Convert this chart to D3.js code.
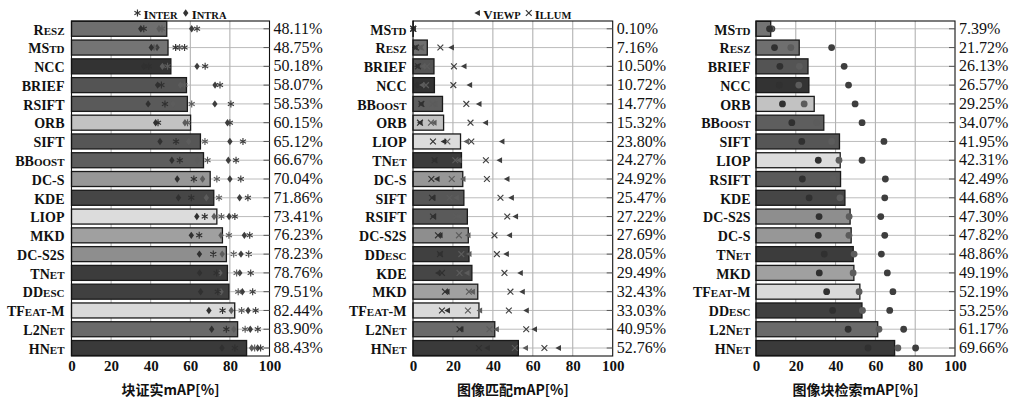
<!DOCTYPE html>
<html><head><meta charset="utf-8">
<script src="https://cdn.jsdelivr.net/npm/d3@7"></script>
<style>
html,body{margin:0;padding:0;background:#fff;}
svg{display:block;}
</style></head>
<body><svg id="c" width="1010" height="399"></svg>
<script>
// ---------------- DATA ----------------
// lowercase letters = small caps
const verifNames = ["Resz","MStd","NCC","BRIEF","RSIFT","ORB","SIFT","BBoost","DC-S","KDE","LIOP","MKD","DC-S2S","TNet","DDesc","TFeat-M","L2Net","HNet"];
const verifMean  = [48.11,48.75,50.18,58.07,58.53,60.15,65.12,66.67,70.04,71.86,73.41,76.23,78.23,78.76,79.51,82.44,83.90,88.43];
// [easy, hard, tough]
const verifInter = [[63.4,45.7,36.5],[57.1,54.6,52.6],[67.5,48.5,39],[75,57,45.4],[80.5,60.7,47.2],[80,58.6,43.7],[86.6,67.4,52.8],[83.1,68.7,54.7],[85.5,73.4,61.8],[89.1,74.5,60.5],[82.5,75.7,67.3],[90,79.5,64.5],[89.5,81.9,71.6],[90.5,83.4,73.3],[91.5,84.2,73.9],[93,85.9,76.3],[94.1,87.7,78.2],[95.5,92.5,82.5]];
const verifIntra = [[60.7,44.2,35],[43.2,41.7,40.3],[63.4,45.9,36.5],[72.5,55,43.5],[72.4,51.3,38.7],[78.8,57.3,42.5],[80,59.2,44.7],[79.2,63.6,50.7],[80,66.2,53.4],[84.9,68.1,54],[79.6,72,63.3],[87.3,75.5,60.5],[85.6,76.1,64.6],[85,75,64.7],[86.3,75.5,65.2],[89.2,80.7,69.4],[90.3,82,70.8],[94,91,76]];

const matchNames = ["MStd","Resz","BRIEF","NCC","BBoost","ORB","LIOP","TNet","DC-S","SIFT","RSIFT","DC-S2S","DDesc","KDE","MKD","TFeat-M","L2Net","HNet"];
const matchMean  = [0.10,7.16,10.50,10.72,14.77,15.32,23.80,24.27,24.92,25.47,27.22,27.69,28.05,29.49,32.43,33.03,40.95,52.76];
const matchViewp = [[0.1,0.1,0.1],[19.2,3.5,1.0],[25.5,5,2],[28.3,4.5,1.5],[33,11,4],[36.3,10.5,3.5],[44.5,26.7,15.3],[43.3,23,10.8],[47,25,12],[49.2,21.7,10],[51.3,23,10.3],[48.3,27.5,13.5],[46.7,28,13.5],[53.7,27,12.5],[54.7,29.7,17],[56.7,33.3,17.2],[60.8,41.7,24],[72.8,56.3,37.2]];
const matchIllum = [[0.1,0.1,0.1],[13.7,4.0,1.5],[20.5,7,2.5],[20.2,6.5,3.3],[26.7,9.8,4.2],[28.8,9,3.5],[29.2,17.2,10],[36.5,21.2,10.8],[37,19.4,9.2],[43.8,18.3,9.5],[47.2,21.5,10],[40.8,23,12.5],[42,24.2,13.5],[45.8,23.3,14.5],[48.8,28,16],[48,27.5,14.5],[56.7,38.3,23.3],[65.8,51,33]];

const retrNames = ["MStd","Resz","BRIEF","NCC","ORB","BBoost","SIFT","LIOP","RSIFT","KDE","DC-S2S","DC-S","TNet","MKD","TFeat-M","DDesc","L2Net","HNet"];
const retrMean  = [7.39,21.72,26.13,26.57,29.25,34.07,41.95,42.31,42.49,44.68,47.30,47.82,48.86,49.19,52.19,53.25,61.17,69.66];
const retrVals  = [[8.0,7.4,6.8],[38,17.5,9.3],[44.3,21.8,12],[46.5,21.5,11.7],[49.8,24.2,13.3],[53.3,30.5,18],[64.3,38,23],[53.3,41.7,31.3],[65,38.7,23.3],[64.7,42.2,26.7],[62.7,46.8,31.7],[64.7,46.7,31.3],[63,49.3,34.3],[66,48.8,31.8],[68.8,51.8,35.5],[67.2,53.5,38.5],[74.2,61.8,46.3],[80.2,71.3,56.3]];

const xTicks = [0,20,40,60,80,100];
const titles = ["块证实mAP[%]","图像匹配mAP[%]","图像块检索mAP[%]"];

// ---------------- STYLE ----------------
const barColor = {
  "Resz":"#6f6f6f","MStd":"#747474","NCC":"#333333","BRIEF":"#545454","RSIFT":"#5a5a5a",
  "ORB":"#c2c2c2","SIFT":"#565656","BBoost":"#5e5e5e","DC-S":"#979797","KDE":"#464646",
  "LIOP":"#dcdcdc","MKD":"#a0a0a0","DC-S2S":"#8e8e8e","TNet":"#3c3c3c","DDesc":"#404040",
  "TFeat-M":"#d9d9d9","L2Net":"#6a6a6a","HNet":"#3a3a3a"
};
const diffColor = ["#3e3e3e","#5c5c5c","#303030"];
const serif = "'Liberation Serif','Times New Roman',serif";

const svg = d3.select("#c");

function smallCaps(sel, name, big, small){
  const runs = [];
  for (const ch of name){
    const low = ch !== ch.toUpperCase();
    if (runs.length && runs[runs.length-1].low === low) runs[runs.length-1].t += ch;
    else runs.push({low, t: ch});
  }
  runs.forEach(r => {
    sel.append("tspan").attr("font-size", r.low ? small : big).text(r.t.toUpperCase());
  });
}

const shapes = {
  asterisk: "M0,-3.5L0,3.5M-3.03,-1.75L3.03,1.75M-3.03,1.75L3.03,-1.75",
  diamond: "M0,-3.7L2.7,0L0,3.7L-2.7,0Z",
  tri: "M-3,0L2.6,-3L2.6,3Z",
  cross: "M-2.9,-2.9L2.9,2.9M-2.9,2.9L2.9,-2.9",
  dot: null
};
function drawMark(g, type, color){
  if (type === "dot") return g.append("circle").attr("r", 3.4).attr("fill", color);
  const p = g.append("path").attr("d", shapes[type]);
  if (type === "asterisk" || type === "cross") p.attr("fill","none").attr("stroke", color).attr("stroke-width", 1.15);
  else p.attr("fill", color);
  return p;
}

function panel(cfg){
  const g = svg.append("g");
  const x = d3.scaleLinear().domain([0,100]).range([cfg.x0, cfg.x1]);
  const y = d3.scaleBand().domain(d3.range(cfg.names.length)).range([19.4, 357.4]).padding(0);
  const top = 21, bot = 356;
  const cy = i => y(i) + y.bandwidth()/2;

  g.append("g").selectAll("line").data(xTicks.slice(1,-1)).join("line")
    .attr("x1", d=>x(d)).attr("x2", d=>x(d)).attr("y1", top).attr("y2", bot)
    .attr("stroke","#aaaaaa").attr("stroke-width",1);
  g.append("g").selectAll("line").data(cfg.names).join("line")
    .attr("x1", cfg.x0).attr("x2", cfg.x1).attr("y1",(d,i)=>cy(i)).attr("y2",(d,i)=>cy(i))
    .attr("stroke","#b4b4b4").attr("stroke-width",0.9);
  g.append("g").selectAll("rect").data(cfg.means).join("rect")
    .attr("x", x(0)).attr("y",(d,i)=>cy(i)-7.5)
    .attr("width", d=>Math.max(0, x(d)-x(0))).attr("height",15)
    .attr("fill",(d,i)=>barColor[cfg.names[i]]).attr("stroke","#1a1a1a").attr("stroke-width",1.3);
  cfg.series.forEach(s => {
    s.values.forEach((vals,i) => {
      vals.forEach((v,k) => {
        const m = g.append("g").attr("transform",`translate(${x(v)},${cy(i)})`);
        drawMark(m, s.shape, diffColor[k]);
      });
    });
  });
  g.append("rect").attr("x",cfg.x0).attr("y",top).attr("width",cfg.x1-cfg.x0).attr("height",bot-top)
    .attr("fill","none").attr("stroke","#111").attr("stroke-width",1.1);
  const ra = g.append("g").attr("transform",`translate(${cfg.x1},0)`)
    .call(d3.axisRight(y).tickSizeInner(-6).tickSizeOuter(0).tickPadding(4).tickFormat(i=>d3.format(".2f")(cfg.means[i])+"%"));
  ra.select(".domain").remove();
  ra.selectAll(".tick line").attr("stroke","#555");
  ra.selectAll(".tick text").attr("font-family",serif).attr("font-size",16).attr("fill","#111").attr("x",4);
  const ba = g.append("g").attr("transform",`translate(0,${bot})`)
    .call(d3.axisBottom(x).tickValues(xTicks).tickSize(0).tickPadding(4));
  ba.select(".domain").remove();
  ba.selectAll(".tick text").attr("font-family",serif).attr("font-size",15).attr("font-weight","bold").attr("fill","#111");
  g.append("g").selectAll("text").data(cfg.names).join("text")
    .attr("x", cfg.x0 - cfg.lpad).attr("y",(d,i)=>cy(i)).attr("dy","0.36em")
    .attr("text-anchor","end").attr("font-family",serif).attr("font-weight","bold").attr("fill","#111")
    .each(function(d){ smallCaps(d3.select(this), d, 14, 11); });
  g.append("text").attr("x",(cfg.x0+cfg.x1)/2).attr("y",395)
    .attr("text-anchor","middle").attr("font-family","'Noto Sans CJK SC','Noto Sans',sans-serif")
    .attr("font-weight","bold").attr("font-size",14).attr("fill","#111").text(cfg.title);
  if (cfg.legend){
    const lg = g.append("g");
    let cx = 0;
    cfg.legend.forEach(item => {
      const m = lg.append("g").attr("transform",`translate(${cx+3},${13})`);
      drawMark(m, item.shape, "#333");
      cx += 9;
      const t = lg.append("text").attr("x",cx).attr("y",13).attr("dy","0.36em")
        .attr("font-family",serif).attr("font-weight","bold").attr("fill","#111");
      smallCaps(t, item.label, 13, 10.5);
      cx += t.node().getComputedTextLength() + 5;
    });
    const w = cx - 5;
    lg.attr("transform",`translate(${(cfg.x0+cfg.x1)/2 + 10 - w/2},0)`);
  }
}

panel({x0:71.5, x1:269.5, lpad:7, names:verifNames, means:verifMean, title:titles[0],
  series:[{values:verifIntra, shape:"diamond"},{values:verifInter, shape:"asterisk"}],
  legend:[{shape:"asterisk",label:"Inter"},{shape:"diamond",label:"Intra"}]});
panel({x0:413, x1:612.7, lpad:6.5, names:matchNames, means:matchMean, title:titles[1],
  series:[{values:matchIllum, shape:"cross"},{values:matchViewp, shape:"tri"}],
  legend:[{shape:"tri",label:"Viewp"},{shape:"cross",label:"Illum"}]});
panel({x0:756, x1:955, lpad:5.5, names:retrNames, means:retrMean, title:titles[2],
  series:[{values:retrVals, shape:"dot"}]});
</script></body></html>
